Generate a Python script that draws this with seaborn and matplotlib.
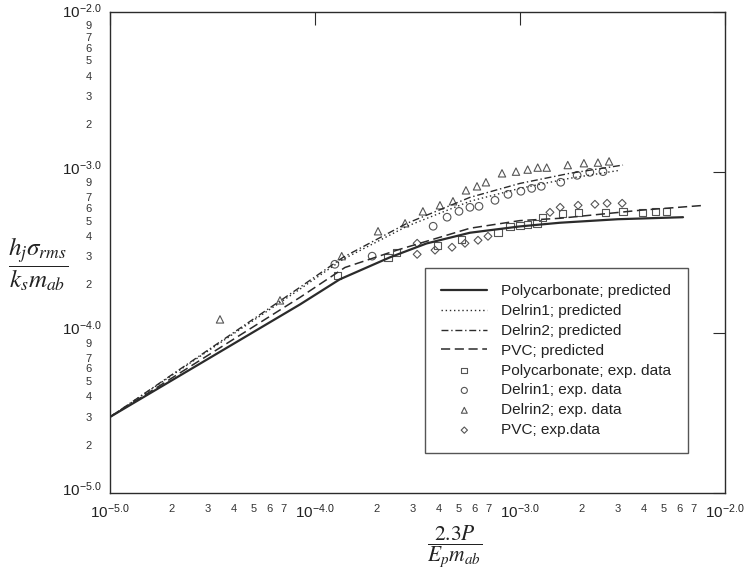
import numpy as np
import pandas as pd
import matplotlib
matplotlib.use("Agg")
import matplotlib.pyplot as plt
import matplotlib.transforms as mtrans
import seaborn as sns

# ---------------- data ----------------
pc_pred_x = [1e-5, 8.45e-5, 1.32e-4, 2.32e-4, 3.5e-4, 5.7e-4, 1.0e-3, 1.57e-3, 3.0e-3, 6.24e-3]
pc_pred_y = [2.98e-5, 1.50e-4, 2.15e-4, 2.95e-4, 3.6e-4, 4.2e-4, 4.6e-4, 4.85e-4, 5.1e-4, 5.25e-4]

d1_pred_x = [1e-5, 8.45e-5, 1.37e-4, 2.81e-4, 5.7e-4, 1.0e-3, 1.75e-3, 3.07e-3]
d1_pred_y = [2.98e-5, 1.87e-4, 2.87e-4, 4.61e-4, 6.6e-4, 7.95e-4, 9.18e-4, 1.03e-3]

d2_pred_x = [1e-5, 8.45e-5, 1.37e-4, 2.81e-4, 5.7e-4, 1.0e-3, 1.75e-3, 3.18e-3]
d2_pred_y = [2.98e-5, 1.92e-4, 2.95e-4, 4.81e-4, 6.98e-4, 8.53e-4, 9.86e-4, 1.11e-3]

pvc_pred_x = [1e-5, 8.45e-5, 1.4e-4, 2.51e-4, 5.7e-4, 1.0e-3, 1.57e-3, 3.85e-3, 8.0e-3]
pvc_pred_y = [2.98e-5, 1.66e-4, 2.55e-4, 3.27e-4, 4.48e-4, 5.0e-4, 5.17e-4, 5.8e-4, 6.23e-4]

pc_exp_x = [1.29e-4, 2.27e-4, 2.51e-4, 3.94e-4, 5.21e-4, 7.81e-4, 8.94e-4, 1.0e-3, 1.09e-3,
            1.21e-3, 1.29e-3, 1.62e-3, 1.92e-3, 2.60e-3, 3.18e-3, 3.94e-3, 4.56e-3, 5.21e-3]
pc_exp_y = [2.28e-4, 2.95e-4, 3.18e-4, 3.51e-4, 3.83e-4, 4.23e-4, 4.61e-4, 4.68e-4, 4.74e-4,
            4.81e-4, 5.25e-4, 5.56e-4, 5.63e-4, 5.63e-4, 5.71e-4, 5.63e-4, 5.71e-4, 5.71e-4]

d1_exp_x = [1.25e-4, 1.90e-4, 3.77e-4, 4.41e-4, 5.04e-4, 5.70e-4, 6.31e-4, 7.55e-4, 8.74e-4,
            1.01e-3, 1.14e-3, 1.27e-3, 1.58e-3, 1.90e-3, 2.19e-3, 2.54e-3]
d1_exp_y = [2.67e-4, 3.0e-4, 4.61e-4, 5.25e-4, 5.71e-4, 6.05e-4, 6.14e-4, 6.69e-4, 7.29e-4,
            7.62e-4, 7.94e-4, 8.18e-4, 8.67e-4, 9.58e-4, 1.0e-3, 1.01e-3]

d2_exp_x = [3.44e-5, 6.75e-5, 1.35e-4, 2.03e-4, 2.75e-4, 3.36e-4, 4.07e-4, 4.71e-4, 5.45e-4,
            6.17e-4, 6.82e-4, 8.17e-4, 9.56e-4, 1.09e-3, 1.22e-3, 1.35e-3, 1.71e-3, 2.05e-3,
            2.40e-3, 2.72e-3]
d2_exp_y = [1.21e-4, 1.59e-4, 3.0e-4, 4.29e-4, 4.81e-4, 5.71e-4, 6.23e-4, 6.6e-4, 7.72e-4,
            8.18e-4, 8.67e-4, 9.86e-4, 1.01e-3, 1.04e-3, 1.07e-3, 1.07e-3, 1.11e-3, 1.14e-3,
            1.15e-3, 1.17e-3]

pvc_exp_x = [3.15e-4, 3.15e-4, 3.85e-4, 4.66e-4, 5.39e-4, 6.24e-4, 6.98e-4, 1.40e-3, 1.57e-3,
             1.92e-3, 2.32e-3, 2.66e-3, 3.15e-3]
pvc_exp_y = [3.61e-4, 3.08e-4, 3.27e-4, 3.41e-4, 3.61e-4, 3.77e-4, 3.99e-4, 5.63e-4, 6.05e-4,
             6.23e-4, 6.32e-4, 6.41e-4, 6.41e-4]

x_major = [1e-5, 1e-4, 1e-3, 1e-2]
major_labels = [r"$\mathregular{10^{-5.0}}$", r"$\mathregular{10^{-4.0}}$",
                r"$\mathregular{10^{-3.0}}$", r"$\mathregular{10^{-2.0}}$"]
x_minor_digits = [2, 3, 4, 5, 6, 7]
y_major = [1e-5, 1e-4, 1e-3, 1e-2]
y_minor_digits = [2, 3, 4, 5, 6, 7, 9]

legend_labels = ["Polycarbonate; predicted", "Delrin1; predicted", "Delrin2; predicted",
                 "PVC; predicted", "Polycarbonate; exp. data", "Delrin1; exp. data",
                 "Delrin2; exp. data", "PVC; exp.data"]

# ---------------- style ----------------
sns.set_style("white")
plt.rcParams["font.family"] = ["Liberation Sans", "DejaVu Sans"]
plt.rcParams["mathtext.fontset"] = "stix"

ink = "#2b2b2b"
mk = "#555555"

fig = plt.figure(figsize=(7.45, 5.8), dpi=100)
ax = fig.add_axes([110 / 745, 1 - 493 / 580, 615 / 745, 481 / 580])

line_specs = [
    (pc_pred_x, pc_pred_y, "-", 1.6, legend_labels[0]),
    (d1_pred_x, d1_pred_y, (0, (1, 2)), 1.0, legend_labels[1]),
    (d2_pred_x, d2_pred_y, (0, (5, 2, 1, 2)), 1.0, legend_labels[2]),
    (pvc_pred_x, pvc_pred_y, (0, (6, 3)), 1.1, legend_labels[3]),
]
for xs, ys, ls, lw, lab in line_specs:
    df = pd.DataFrame({"x": xs, "y": ys})
    sns.lineplot(data=df, x="x", y="y", ax=ax, color=ink, linestyle=ls, linewidth=lw,
                 label=lab, sort=False, estimator=None)

pt_specs = [
    (pc_exp_x, pc_exp_y, "s", 26, legend_labels[4]),
    (d1_exp_x, d1_exp_y, "o", 30, legend_labels[5]),
    (d2_exp_x, d2_exp_y, "^", 28, legend_labels[6]),
    (pvc_exp_x, pvc_exp_y, "D", 16, legend_labels[7]),
]
for xs, ys, m, s, lab in pt_specs:
    df = pd.DataFrame({"x": xs, "y": ys})
    sns.scatterplot(data=df, x="x", y="y", ax=ax, marker=m, s=s, facecolor="none",
                    edgecolor=mk, linewidth=0.8, label=lab)

ax.set_xscale("log")
ax.set_yscale("log")
ax.set_xlim(1e-5, 1e-2)
ax.set_ylim(1e-5, 1e-2)

ax.set_xticks(x_major)
ax.set_xticklabels(major_labels)
xm = [d * 10.0 ** e for e in (-5, -4, -3) for d in x_minor_digits]
ax.set_xticks(xm, minor=True)
ax.set_xticklabels([str(d) for e in (-5, -4, -3) for d in x_minor_digits], minor=True)

ax.set_yticks(y_major)
ax.set_yticklabels(major_labels)
ym = [d * 10.0 ** e for e in (-5, -4, -3) for d in y_minor_digits]
ax.set_yticks(ym, minor=True)
ax.set_yticklabels([str(d) for e in (-5, -4, -3) for d in y_minor_digits], minor=True)

ax.tick_params(which="major", direction="in", length=9, width=0.8, color=ink,
               labelsize=11, labelcolor="#222222", top=True, right=True,
               labeltop=False, labelright=False, pad=7)
ax.tick_params(which="minor", length=0, labelsize=8, labelcolor="#333333", pad=8)
ax.tick_params(axis="y", which="minor", pad=13)
ax.tick_params(axis="y", which="major", pad=6)

# lift the y decade labels a little, lower the "9" labels, as in the reference
up = mtrans.ScaledTranslation(0, 3.6 / 72, fig.dpi_scale_trans)
up_top = mtrans.ScaledTranslation(0, 1.2 / 72, fig.dpi_scale_trans)
down = mtrans.ScaledTranslation(0, -2.0 / 72, fig.dpi_scale_trans)
down_top = mtrans.ScaledTranslation(0, -4.0 / 72, fig.dpi_scale_trans)
ylabs = ax.get_yticklabels()
for lab in ylabs[:-1]:
    lab.set_transform(lab.get_transform() + up)
ylabs[-1].set_transform(ylabs[-1].get_transform() + up_top)
nines = [lab for lab in ax.get_yticklabels(minor=True) if lab.get_text() == "9"]
for lab in nines[:-1]:
    lab.set_transform(lab.get_transform() + down)
nines[-1].set_transform(nines[-1].get_transform() + down_top)

for sp in ax.spines.values():
    sp.set_color(ink)
    sp.set_linewidth(1.0)
    sp.set_visible(True)

ax.set_xlabel("")
ax.set_ylabel("")

fig.text(38 / 745, 1 - 264 / 580, r"$\dfrac{h_j\sigma_{rms}}{k_s m_{ab}}$",
         fontsize=18, ha="center", va="center", color="#222222")
fig.text(455 / 745, 1 - 547 / 580, r"$\dfrac{2.3P}{E_p m_{ab}}$",
         fontsize=15.5, ha="center", va="center", color="#222222")

leg = ax.legend(loc="upper left", bbox_to_anchor=((425 - 110) / 615, (493 - 268) / 481),
                frameon=True, fancybox=False, shadow=False, fontsize=11.1,
                handlelength=3.0, handletextpad=0.9, labelspacing=0.38,
                borderpad=1.05, borderaxespad=0.0, markerscale=0.8)
leg.get_frame().set_edgecolor(ink)
leg.get_frame().set_linewidth(1.0)
for t in leg.get_texts():
    t.set_color("#222222")

fig.savefig("out.png", dpi=100, facecolor="white")
